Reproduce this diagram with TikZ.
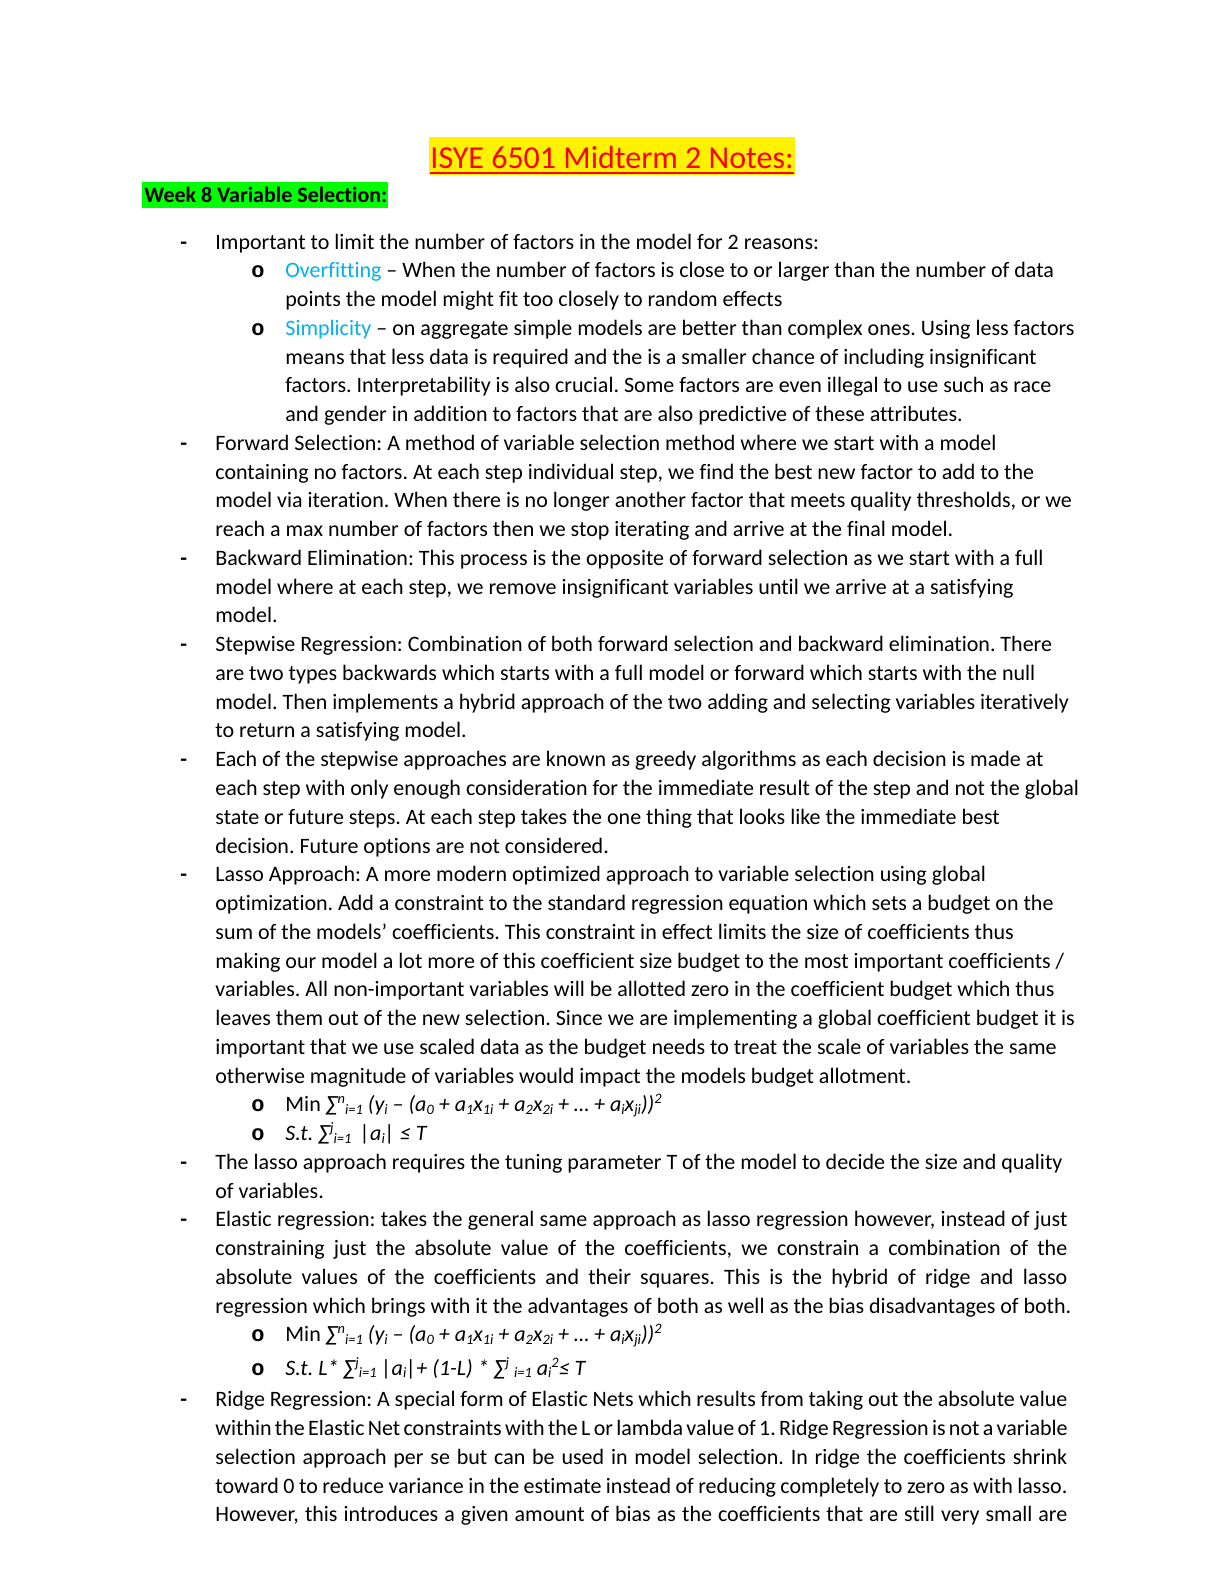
\documentclass[tikz,border=0pt]{standalone}
\usepackage{fontspec}
\setmainfont{Carlito}[Ligatures=NoCommon]
\newfontfamily\bulletfont{Liberation Mono}
\usetikzlibrary{backgrounds}
\definecolor{lblue}{RGB}{0,176,240}
\definecolor{hlgreen}{RGB}{0,255,0}
\frenchspacing
\newcommand\myup[1]{\raisebox{0.36em}{\fontsize{7.2}{8}\selectfont #1}}
\newcommand\mydn[1]{\raisebox{-0.12em}{\fontsize{7.2}{8}\selectfont #1}}
\newcommand\jst[1]{\hbox to 426pt{#1}}
\tikzset{
  txt/.style={anchor=base west, inner sep=0pt, font=\fontsize{11}{13}\selectfont},
  dashb/.style={anchor=base west, inner sep=0pt, font=\fontsize{11}{13}\selectfont\bfseries},
  ob/.style={anchor=base west, inner sep=0pt, font=\fontsize{11}{13}\bulletfont\bfseries},
}
\begin{document}
\begin{tikzpicture}[x=0.5pt,y=-0.5pt]
\useasboundingbox (0,0) rectangle (1224,1584);
% title
\node[anchor=base, inner sep=0pt, font=\fontsize{16}{19}\selectfont, text=red] (title) at (612,169) {ISYE 6501 Midterm 2 Notes:};
\node[txt, font=\fontsize{11}{13}\selectfont\bfseries] (wk) at (144,202.5) {Week 8 Variable Selection:};
\begin{scope}[on background layer]
\path (title.base west) ++(-1,-32) coordinate (ya);
\path (title.base east) ++(1,6) coordinate (yb);
\fill[yellow] (ya) rectangle (yb);
\path (wk.base west) ++(-2,-20.5) coordinate (ga);
\path (wk.base east) ++(0,5.5) coordinate (gb);
\fill[hlgreen] (ga) rectangle (gb);
\end{scope}
\draw[red, line width=1pt] ([yshift=-2pt]title.base west) -- ([yshift=-2pt]title.base east);

% paragraph 1
\node[dashb] (d1) at (180,249) {-};
\node[txt] (l0) at (215,249) {Important to limit the number of factors in the model for 2 reasons:};
\node[ob] (o1) at (251,277.8) {o};
\node[txt] (l1) at (285,277.8) {\textcolor{lblue}{Overfitting} – When the number of factors is close to or larger than the number of data};
\node[txt] (l2) at (285,306.5) {points the model might fit too closely to random effects};
\node[ob] (o2) at (251,335.3) {o};
\node[txt] (l3) at (285,335.3) {\textcolor{lblue}{Simplicity} – on aggregate simple models are better than complex ones. Using less factors};
\node[txt] (l4) at (285,364.0) {means that less data is required and the is a smaller chance of including insignificant};
\node[txt] (l5) at (285,392.8) {factors. Interpretability is also crucial. Some factors are even illegal to use such as race};
\node[txt] (l6) at (285,421.6) {and gender in addition to factors that are also predictive of these attributes.};

\node[dashb] (d2) at (180,450.3) {-};
\node[txt] (l7) at (215,450.3) {Forward Selection: A method of variable selection method where we start with a model};
\node[txt] (l8) at (215,479.1) {containing no factors. At each step individual step, we find the best new factor to add to the};
\node[txt] (l9) at (215,507.8) {model via iteration. When there is no longer another factor that meets quality thresholds, or we};
\node[txt] (l10) at (215,536.6) {reach a max number of factors then we stop iterating and arrive at the final model.};

\node[dashb] (d3) at (180,565.4) {-};
\node[txt] (l11) at (215,565.4) {Backward Elimination: This process is the opposite of forward selection as we start with a full};
\node[txt] (l12) at (215,594.1) {model where at each step, we remove insignificant variables until we arrive at a satisfying};
\node[txt] (l13) at (215,622.9) {model.};

\node[dashb] (d4) at (180,651.6) {-};
\node[txt] (l14) at (215,651.6) {Stepwise Regression: Combination of both forward selection and backward elimination. There};
\node[txt] (l15) at (215,680.4) {are two types backwards which starts with a full model or forward which starts with the null};
\node[txt] (l16) at (215,709.2) {model. Then implements a hybrid approach of the two adding and selecting variables iteratively};
\node[txt] (l17) at (215,737.9) {to return a satisfying model.};

\node[dashb] (d5) at (180,766.7) {-};
\node[txt] (l18) at (215,766.7) {Each of the stepwise approaches are known as greedy algorithms as each decision is made at};
\node[txt] (l19) at (215,795.4) {each step with only enough consideration for the immediate result of the step and not the global};
\node[txt] (l20) at (215,824.2) {state or future steps. At each step takes the one thing that looks like the immediate best};
\node[txt] (l21) at (215,853.0) {decision. Future options are not considered.};

\node[dashb] (d6) at (180,881.7) {-};
\node[txt] (l22) at (215,881.7) {Lasso Approach: A more modern optimized approach to variable selection using global};
\node[txt] (l23) at (215,910.5) {optimization. Add a constraint to the standard regression equation which sets a budget on the};
\node[txt] (l24) at (215,939.2) {sum of the models’ coefficients. This constraint in effect limits the size of coefficients thus};
\node[txt] (l25) at (215,968.0) {making our model a lot more of this coefficient size budget to the most important coefficients /};
\node[txt] (l26) at (215,996.8) {variables. All non-important variables will be allotted zero in the coefficient budget which thus};
\node[txt] (l27) at (215,1025.5) {leaves them out of the new selection. Since we are implementing a global coefficient budget it is};
\node[txt] (l28) at (215,1054.3) {important that we use scaled data as the budget needs to treat the scale of variables the same};
\node[txt] (l29) at (215,1083.0) {otherwise magnitude of variables would impact the models budget allotment.};
\node[ob] (o3) at (251,1111.8) {o};
\node[txt] (f1) at (285,1111.8) {Min \textit{∑\myup{n}\mydn{i=1} (y\mydn{i} – (a\mydn{0} + a\mydn{1}x\mydn{1i} + a\mydn{2}x\mydn{2i} + … + a\mydn{i}x\mydn{ji}))\myup{2}}};
\node[ob] (o4) at (251,1140.6) {o};
\node[txt] (f2) at (285,1140.6) {\textit{S.t. ∑\myup{j}\mydn{i=1}\, |a\mydn{i}| ≤ T}};

\node[dashb] (d7) at (180,1169.3) {-};
\node[txt] (l32) at (215,1169.3) {The lasso approach requires the tuning parameter T of the model to decide the size and quality};
\node[txt] (l33) at (215,1198.1) {of variables.};

\node[dashb] (d8) at (180,1226.8) {-};
\node[txt] (l34) at (215,1226.8) {\jst{Elastic regression: takes the general same approach as lasso regression however, instead of just}};
\node[txt] (l35) at (215,1255.6) {\jst{constraining just the absolute value of the coefficients, we constrain a combination of the}};
\node[txt] (l36) at (215,1284.4) {\jst{absolute values of the coefficients and their squares. This is the hybrid of ridge and lasso}};
\node[txt] (l37) at (215,1313.1) {regression which brings with it the advantages of both as well as the bias disadvantages of both.};
\node[ob] (o5) at (251,1341.9) {o};
\node[txt] (f3) at (285,1341.9) {Min \textit{∑\myup{n}\mydn{i=1} (y\mydn{i} – (a\mydn{0} + a\mydn{1}x\mydn{1i} + a\mydn{2}x\mydn{2i} + … + a\mydn{i}x\mydn{ji}))\myup{2}}};
\node[ob] (o6) at (251,1375) {o};
\node[txt] (f4) at (285,1375) {\textit{S.t. L* ∑\myup{j}\mydn{i=1} |a\mydn{i}|+ (1-L) * ∑\myup{j} \mydn{i=1} a\mydn{i}\myup{2}≤ T}};

\node[dashb] (d9) at (180,1406) {-};
\node[txt] (l40) at (215,1406) {\jst{Ridge Regression: A special form of Elastic Nets which results from taking out the absolute value}};
\node[txt] (l41) at (215,1435) {\jst{within the Elastic Net constraints with the L or lambda value of 1. Ridge Regression is not a variable}};
\node[txt] (l42) at (215,1464) {\jst{selection approach per se but can be used in model selection. In ridge the coefficients shrink}};
\node[txt] (l43) at (215,1493) {\jst{toward 0 to reduce variance in the estimate instead of reducing completely to zero as with lasso.}};
\node[txt] (l44) at (215,1521) {\jst{However, this introduces a given amount of bias as the coefficients that are still very small are}};
\end{tikzpicture}
\end{document}
